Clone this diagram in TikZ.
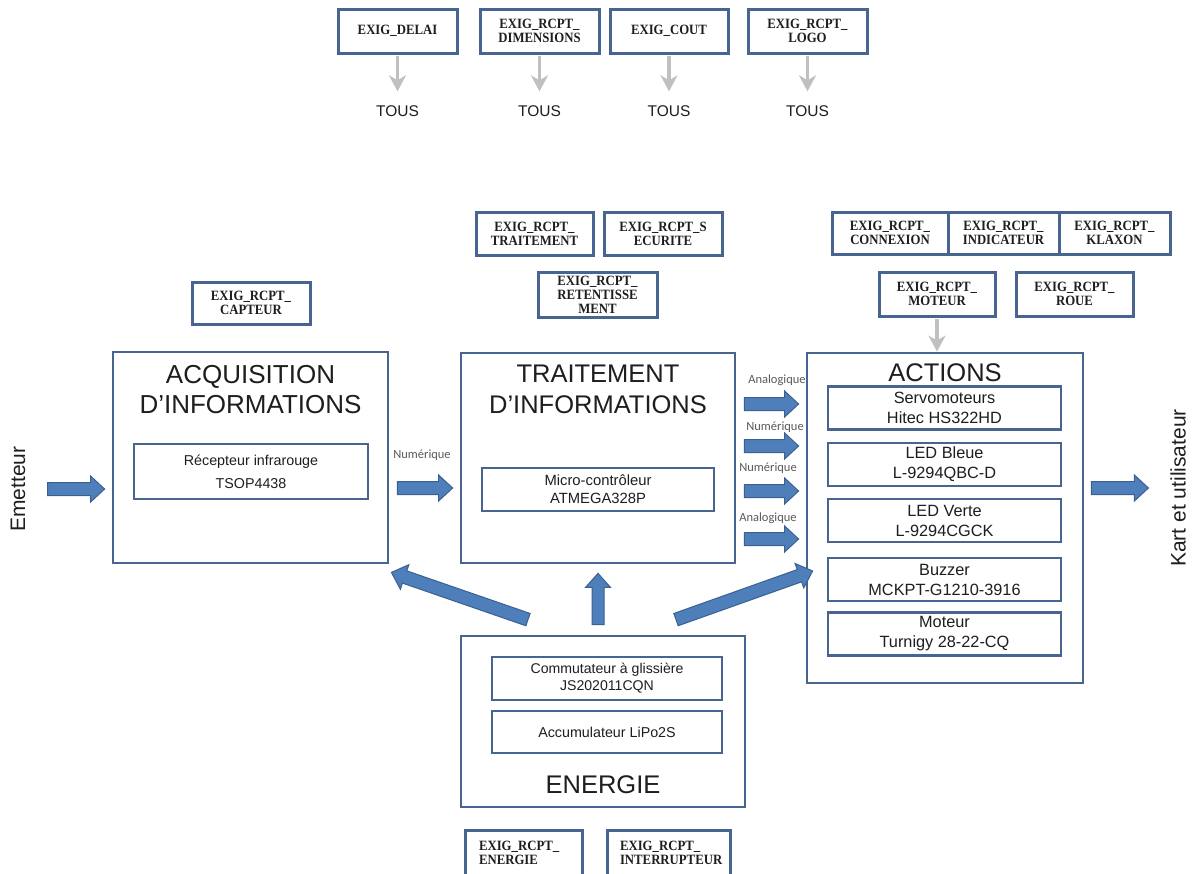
\documentclass[tikz,border=0pt]{standalone}
\usepackage{fontspec}
\setmainfont{Liberation Sans}
\newfontfamily\reqfont[FakeStretch=0.9]{Liberation Serif}
\newfontfamily\calfont{Carlito}
\usetikzlibrary{arrows.meta,calc}
\definecolor{boxc}{RGB}{72,100,145}
\definecolor{arrfill}{RGB}{79,127,187}
\definecolor{arrdraw}{RGB}{58,96,145}
\definecolor{grayarr}{RGB}{192,192,192}
\definecolor{lblc}{RGB}{90,90,90}
\definecolor{txtc}{RGB}{30,30,30}
% block arrow: start, end, half shaft width, half head width
\newcommand{\blockarrow}[4]{%
  \coordinate (ba1) at #1; \coordinate (ba2) at #2;
  \coordinate (bac) at ($(ba2)!14pt!(ba1)$);
  \filldraw[fill=arrfill,draw=arrdraw,line width=1pt,line join=miter]
   ($(ba1)!#3!90:(ba2)$) -- ($(bac)!#3!-90:(ba1)$) -- ($(bac)!#4!-90:(ba1)$) -- (ba2)
   -- ($(bac)!#4!90:(ba1)$) -- ($(bac)!#3!90:(ba1)$) -- ($(ba1)!#3!-90:(ba2)$) -- cycle;}
\tikzset{
  reqbox/.style={draw=boxc,line width=3pt,fill=white,align=center,inner sep=0pt,text=txtc,
    font=\reqfont\bfseries\fontsize{14.2}{14}\selectfont},
  reqleft/.style={reqbox,align=left,inner xsep=14pt,text width=#1},
  bigbox/.style={draw=boxc,line width=2.8pt},
  innerbox/.style={draw=boxc,line width=2.8pt,align=center,inner sep=0pt,text=txtc},
  actbox/.style={innerbox,minimum width=233pt,minimum height=43pt,font=\fontsize{16.3}{20}\selectfont},
  titletxt/.style={font=\fontsize{26}{30}\selectfont,align=center,inner sep=0pt,text=txtc},
  siglbl/.style={font=\calfont\fontsize{12.5}{14}\selectfont,text=lblc,inner sep=0pt},
  tous/.style={font=\fontsize{15.5}{18}\selectfont,text=txtc,inner sep=0pt},
  sidetxt/.style={font=\fontsize{21}{24}\selectfont,rotate=90,inner sep=0pt,text=txtc},
  grayarrow/.style={draw=grayarr,line width=3.5pt,-{Stealth[length=16pt,width=17pt,inset=5pt]}}
}
\begin{document}
\begin{tikzpicture}[x=1pt,y=-1pt]
\useasboundingbox[fill=white] (0,0) rectangle (1193,873);

% top requirement row
\node[reqbox,minimum width=119pt,minimum height=44pt] (delai) at (397.5,31) {EXIG\_DELAI};
\node[reqbox,minimum width=119pt,minimum height=44pt] (dim) at (539.5,31) {EXIG\_RCPT\_\\DIMENSIONS};
\node[reqbox,minimum width=118pt,minimum height=44pt] (cout) at (669,31) {EXIG\_COUT};
\node[reqbox,minimum width=119pt,minimum height=44pt] (logo) at (807.5,31) {EXIG\_RCPT\_\\LOGO};
\node[tous] (tous1) at (397.5,111) {TOUS};
\node[tous] (tous2) at (539.5,111) {TOUS};
\node[tous] (tous3) at (669,111) {TOUS};
\node[tous] (tous4) at (807.5,111) {TOUS};
\draw[grayarrow,shorten <=1.5pt,shorten >=14pt] (delai.south) -- (tous1.north);
\draw[grayarrow,shorten <=1.5pt,shorten >=14pt] (dim.south) -- (tous2.north);
\draw[grayarrow,shorten <=1.5pt,shorten >=14pt] (cout.south) -- (tous3.north);
\draw[grayarrow,shorten <=1.5pt,shorten >=14pt] (logo.south) -- (tous4.north);

% middle requirement boxes
\node[reqbox,minimum width=117pt,minimum height=43pt] (rtrait) at (534.5,233.5) {EXIG\_RCPT\_\\TRAITEMENT};
\node[reqbox,minimum width=118pt,minimum height=43pt] (rsecu) at (663,233.5) {EXIG\_RCPT\_S\\ECURITE};
\node[reqbox,minimum width=119pt,minimum height=45pt] (rret) at (597.5,294.5) {EXIG\_RCPT\_\\RETENTISSE\\MENT};
\node[reqbox,minimum width=118pt,minimum height=42pt] (rcapt) at (251,303) {EXIG\_RCPT\_\\CAPTEUR};
\node[reqbox,minimum width=116pt,minimum height=42pt] (rconn) at (890,233) {EXIG\_RCPT\_\\CONNEXION};
\node[reqbox,minimum width=111pt,minimum height=42pt] (rind) at (1003.5,233) {EXIG\_RCPT\_\\INDICATEUR};
\node[reqbox,minimum width=111pt,minimum height=42pt] (rklax) at (1114.5,233) {EXIG\_RCPT\_\\KLAXON};
\node[reqbox,minimum width=116pt,minimum height=44pt] (rmot) at (937,294) {EXIG\_RCPT\_\\MOTEUR};
\node[reqbox,minimum width=117pt,minimum height=44pt] (rroue) at (1074.5,294) {EXIG\_RCPT\_\\ROUE};

% big boxes
\node[bigbox,minimum width=275pt,minimum height=211pt] (acq) at (250.5,457.5) {};
\node[bigbox,minimum width=274pt,minimum height=210pt] (trait) at (598,458) {};
\node[bigbox,minimum width=276pt,minimum height=330pt] (actions) at (945,518) {};
\node[bigbox,minimum width=284pt,minimum height=171pt] (energie) at (603,721.5) {};

\node[titletxt] (tacq) at (250.5,390) {ACQUISITION\\D’INFORMATIONS};
\node[titletxt,font=\fontsize{25.5}{31}\selectfont] (ttrait) at (598,389) {TRAITEMENT\\D’INFORMATIONS};
\node[titletxt,font=\fontsize{25.5}{30}\selectfont] (tact) at (945,373) {ACTIONS};
\node[titletxt,font=\fontsize{25.5}{30}\selectfont] (tener) at (603,785) {ENERGIE};

% inner boxes
\node[innerbox,minimum width=234pt,minimum height=55pt,font=\fontsize{14.3}{23}\selectfont] (rec) at (251,471.5) {Récepteur infrarouge\\TSOP4438};
\node[innerbox,minimum width=232pt,minimum height=43pt,font=\fontsize{14.8}{18}\selectfont] (micro) at (598,489.5) {Micro-contrôleur\\ATMEGA328P};
\node[actbox] (servo) at (944.5,408) {Servomoteurs\\Hitec HS322HD};
\node[actbox] (ledb) at (944.5,464.5) {LED Bleue\\L-9294QBC-D};
\node[actbox] (ledv) at (944.5,520.5) {LED Verte\\L-9294CGCK};
\node[actbox] (buzz) at (944.5,579.5) {Buzzer\\MCKPT-G1210-3916};
\node[actbox] (mot) at (944.5,634) {Moteur\\Turnigy 28-22-CQ};
\node[innerbox,minimum width=230pt,minimum height=43pt,font=\fontsize{14.1}{17}\selectfont] (comm) at (607,678.5) {Commutateur à glissière\\JS202011CQN};
\node[innerbox,minimum width=230pt,minimum height=42pt,font=\fontsize{14.3}{17}\selectfont] (accu) at (607,732) {Accumulateur LiPo2S};

% bottom requirement boxes
\node[reqleft=89pt,minimum width=117pt,minimum height=46pt] (rener) at (523.5,853) {EXIG\_RCPT\_\\ENERGIE};
\node[reqleft=97pt,minimum width=123pt,minimum height=46pt,inner xsep=13pt] (rint) at (668.5,853) {EXIG\_RCPT\_\\INTERRUPTEUR};

% gray arrow moteur -> actions
\draw[grayarrow,shorten <=1.5pt] (rmot.south) -- (rmot.south |- actions.north);

% side texts
\node[sidetxt] (emet) at (18,489) {Emetteur};
\node[sidetxt] (kart) at (1178,488) {Kart et utilisateur};

% signal labels
\node[siglbl] (l1) at (422,455) {Numérique};
\node[siglbl] (l2) at (777,380) {Analogique};
\node[siglbl] (l3) at (775,427) {Numérique};
\node[siglbl] (l4) at (768,468) {Numérique};
\node[siglbl] (l5) at (768,518) {Analogique};

% block arrows
\blockarrow{($(acq.west)+(-64,31.5)$)}{($(acq.west)+(-7,31.5)$)}{6.5pt}{13pt}
\blockarrow{($(acq.east)+(8,30.5)$)}{($(trait.west)+(-7,30)$)}{6.5pt}{13pt}
\blockarrow{($(trait.east)+(8,-54)$)}{($(actions.west)+(-7,-114)$)}{6.5pt}{13pt}
\blockarrow{($(trait.east)+(8,-12)$)}{($(actions.west)+(-7,-72)$)}{6.5pt}{13pt}
\blockarrow{($(trait.east)+(8,33)$)}{($(actions.west)+(-7,-27)$)}{6.5pt}{13pt}
\blockarrow{($(trait.east)+(8,81)$)}{($(actions.west)+(-7,21)$)}{6.5pt}{13pt}
\blockarrow{($(actions.east)+(7,-30)$)}{($(actions.east)+(64,-30)$)}{6.5pt}{13pt}
\blockarrow{($(energie.north)+(-5,-10)$)}{($(trait.south)+(0,9)$)}{6pt}{12.5pt}
\blockarrow{($(energie.north)+(-75,-15)$)}{($(acq.south east)+(2,8)$)}{6.5pt}{13pt}
\blockarrow{($(energie.north)+(73,-15)$)}{($(actions.west)+(7,53)$)}{6.5pt}{13pt}
\end{tikzpicture}
\end{document}
